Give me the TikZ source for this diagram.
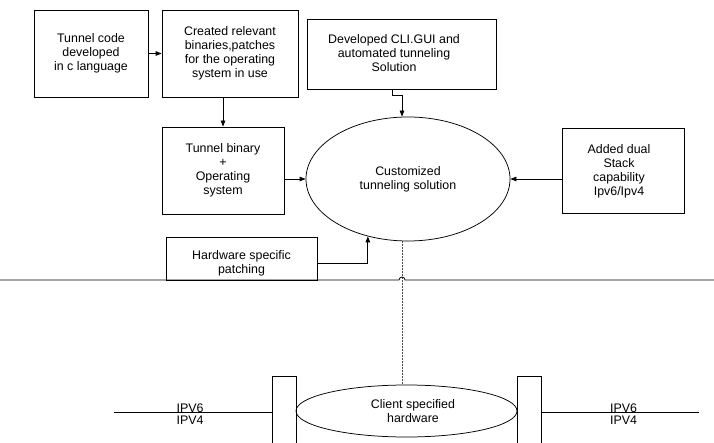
\documentclass[tikz,border=0pt]{standalone}
\usepackage{fontspec}
\setmainfont{Liberation Sans}
\usetikzlibrary{arrows.meta,shapes.geometric}
\begin{document}
\begin{tikzpicture}[x=1pt,y=-1pt,
  txt/.style={font=\fontsize{12.4}{14}\selectfont},
  box/.style={draw,line width=0.75pt,inner sep=0pt,align=center,txt},
  oval/.style={ellipse,draw,line width=0.75pt,inner sep=0pt,align=center,txt},
  conn/.style={line width=0.75pt,-{Triangle[length=6pt,width=4.5pt]}},
  plain/.style={line width=0.75pt},
  dashline/.style={line width=0.6pt,black!70,dash pattern=on 2pt off 1pt},
  lbl/.style={inner sep=0pt,align=center,txt}]
\useasboundingbox (0,0) rectangle (714,443);

% upper boxes
\node[box,minimum width=114pt,minimum height=87pt] (code) at (91,53.5) {Tunnel code\\developed\\in c language};
\node[box,minimum width=136pt,minimum height=87pt] (bin) at (230,53.5) {Created relevant\\binaries,patches\\for the operating\\system in use};
\node[box,minimum width=189pt,minimum height=70pt] (dev) at (401.5,54) {};
\node[lbl] (devt) at (394,53) {Developed CLI.GUI and\\automated tunneling\\Solution};
\node[box,minimum width=122pt,minimum height=87pt] (tun) at (223,170.5) {Tunnel binary\\+\\Operating\\system};
\node[box,minimum width=122pt,minimum height=85pt] (dual) at (623,170.5) {};
\node[lbl] (dualt) at (619,171) {Added dual\\Stack\\capability\\Ipv6/Ipv4};
\node[box,minimum width=151pt,minimum height=43pt] (hw) at (241.5,258.5) {};
\node[lbl] (hwt) at (241.5,263) {Hardware specific\\patching};
\node[oval,minimum width=204pt,minimum height=124pt] (cust) at (408,179) {Customized\\tunneling solution};

% connectors
\draw[conn] (code.east) -- (bin.west);
\draw[conn] (bin.south -| tun.north) -- (tun.north);
\draw[conn] (tun.east |- cust.west) -- (cust.west);
\draw[conn] (dual.west |- cust.east) -- (cust.east);
\draw[conn] ([xshift=-9.5pt]dev.south) -- ++(0,6) -| ([xshift=-6pt]cust.north);
\draw[conn] ([yshift=-4.5pt]hw.east) -| (cust.235.8);

% bottom part
\node[draw,line width=0.75pt,minimum width=24pt,minimum height=80pt,inner sep=0pt] (lrect) at (284,416) {};
\node[draw,line width=0.75pt,minimum width=24pt,minimum height=80pt,inner sep=0pt] (rrect) at (529,416) {};
\node[oval,minimum width=221pt,minimum height=52pt] (client) at (406.5,411) {};
\node[lbl] (clientt) at (413,411) {Client specified\\hardware};

\coordinate (l0) at (114,412);
\coordinate (r0) at (699,412);
\draw[plain] (l0) -- (l0 -| lrect.west);
\draw[plain] (rrect.east |- r0) -- (r0);
\node[lbl,anchor=base] (ipl6) at (190,412) {IPV6};
\node[lbl,anchor=base] (ipl4) at (190,424) {IPV4};
\node[lbl,anchor=base] (ipr6) at (623.5,412) {IPV6};
\node[lbl,anchor=base] (ipr4) at (623.5,424) {IPV4};

% dashed link
\draw[dashline] ([xshift=-6pt]cust.south) -- ([xshift=-4.5pt]client.north);

% separator with hop
\coordinate (s0) at (0,280);
\coordinate (s1) at (714,280);
\draw[plain] (s0) -- (399,280) arc[start angle=180,end angle=0,radius=3pt] -- (s1);
\end{tikzpicture}
\end{document}
